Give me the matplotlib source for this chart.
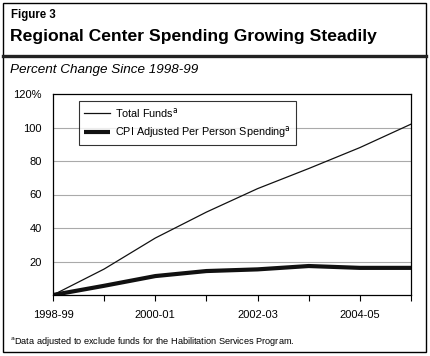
import numpy as np
import matplotlib.pyplot as plt
from matplotlib.patches import Rectangle
from matplotlib.lines import Line2D

plt.rcParams['font.family'] = ['Liberation Sans', 'DejaVu Sans']

years = ["1998-99", "1999-00", "2000-01", "2001-02", "2002-03", "2003-04", "2004-05", "2005-06"]
total_funds = [0, 15.5, 34, 49.5, 63.5, 75.5, 88, 102]
cpi_per_person = [0, 5.5, 11.3, 14.3, 15.3, 17.3, 16.2, 16.2]
tick_years = ["1998-99", "2000-01", "2002-03", "2004-05"]
yticks = [20, 40, 60, 80, 100, 120]
ylabels = ["20", "40", "60", "80", "100", "120%"]

W, H = 430, 356
fig = plt.figure(figsize=(W / 100, H / 100), dpi=100)

def px(x, y):
    return x / W, 1 - y / H

# outer frame and header rule
fig.patches.append(Rectangle((3 / W, 1 - 352 / H), 423 / W, 349 / H, transform=fig.transFigure,
                             fill=False, edgecolor='black', linewidth=1.0))
fig.add_artist(Line2D([3 / W, 426 / W], [1 - 56 / H] * 2, transform=fig.transFigure,
                      color='#222222', linewidth=2.4))

fig.text(*px(11, 15), "Figure 3", fontsize=8.3, fontweight='bold', va='center', ha='left')
fig.text(*px(10, 37), "Regional Center Spending Growing Steadily", fontsize=12.6,
         fontweight='bold', va='center', ha='left')
fig.text(*px(10, 70), "Percent Change Since 1998-99", fontsize=9.7, style='italic',
         va='center', ha='left')
fig.text(*px(10, 341), r"$^{\mathrm{a}}$Data adjusted to exclude funds for the Habilitation Services Program.",
         fontsize=6.6, va='center', ha='left')

l, b = px(53, 295)
r, t = px(411, 94)
ax = fig.add_axes([l, b, r - l, t - b])

x = np.arange(len(years))
ax.plot(x, total_funds, color='#111111', linewidth=0.9, label=r"Total Funds$^{\mathrm{a}}$")
ax.plot(x, cpi_per_person, color='#111111', linewidth=3.0, solid_capstyle='butt',
        label=r"CPI Adjusted Per Person Spending$^{\mathrm{a}}$")

ax.set_xlim(0, len(years) - 1)
ax.set_ylim(0, 120)
ax.set_yticks(yticks)
ax.set_yticklabels(ylabels, fontsize=8)
ax.tick_params(axis='y', length=0, pad=8)
ax.set_xticks(x)
ax.set_xticklabels([y if y in tick_years else "" for y in years], fontsize=8)
ax.tick_params(axis='x', length=4, width=0.8, direction='out', pad=7)
for yv in [20, 40, 60, 80, 100]:
    ax.axhline(yv, color='#aaaaaa', linewidth=0.8, zorder=0)
for s in ax.spines.values():
    s.set_linewidth(0.9)

leg = ax.legend(loc='upper left', bbox_to_anchor=(26 / 358, 194 / 201), fontsize=7.8, frameon=True,
                fancybox=False, edgecolor='black', handlelength=2.4, borderpad=0.45,
                labelspacing=0.4, handletextpad=0.5, borderaxespad=0)
leg.get_frame().set_linewidth(0.8)

fig.savefig("out.png", dpi=100)
